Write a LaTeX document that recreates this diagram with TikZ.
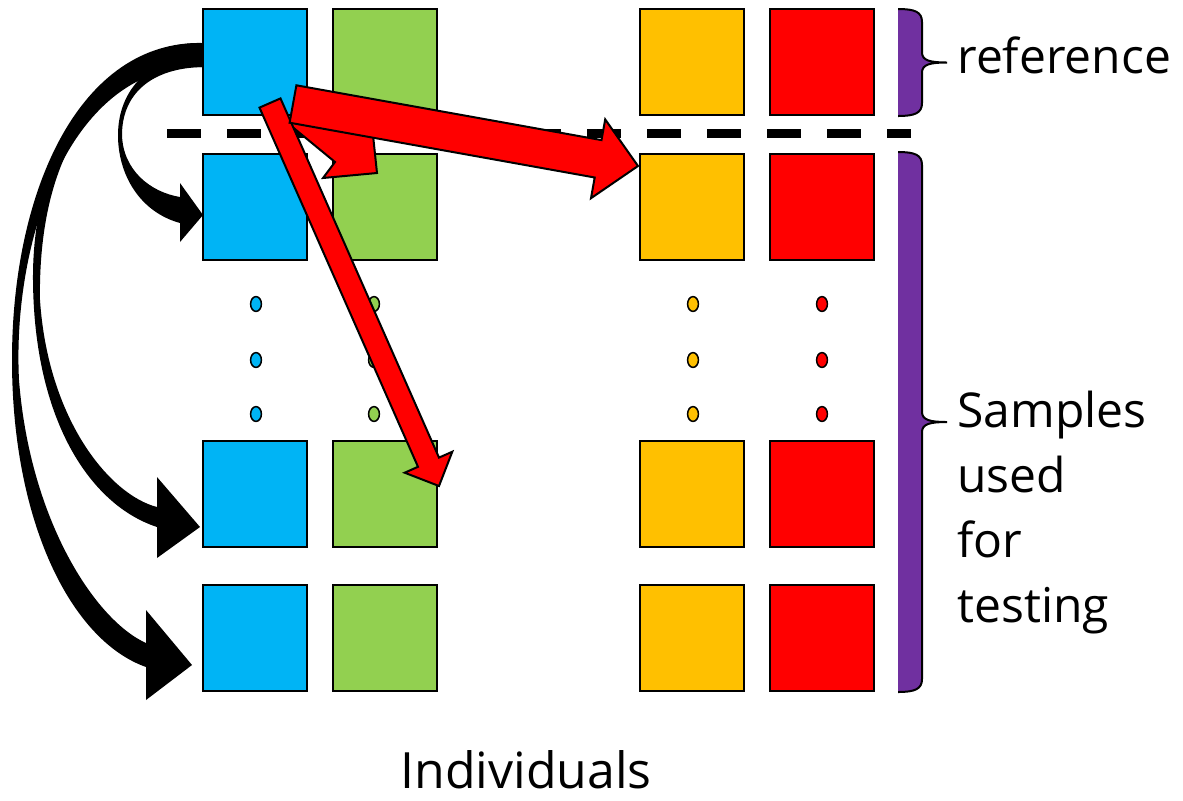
\documentclass[tikz,border=0pt]{standalone}
\usepackage{fontspec}
\setmainfont{Open Sans}
\usetikzlibrary{shapes.geometric}

\definecolor{cyanblue}{HTML}{00B4F5}
\definecolor{leafgreen}{HTML}{92D050}
\definecolor{amber}{HTML}{FFC000}
\definecolor{brightred}{HTML}{FF0000}
\definecolor{braceviolet}{HTML}{7030A0}

\begin{document}
\begin{tikzpicture}[
		x=0.5pt, y=-0.5pt,
		cell/.style={rectangle, draw, line width=1pt, minimum width=52pt, minimum height=53pt, inner sep=0pt},
		seed/.style={ellipse, draw, line width=0.75pt, minimum width=5.4pt, minimum height=7.4pt, inner sep=0pt},
		bolt/.style={fill=brightred, draw, line width=1pt, line join=miter},
		sidetext/.style={font=\fontsize{24}{32.5}\selectfont, align=left, inner sep=0pt}
	]
  \useasboundingbox (0,0) rectangle (1183,800);

  % four individuals, four samples each
  \foreach \c/\x/\col in {blu/255/cyanblue, grn/385/leafgreen, amb/692/amber, red/822/brightred}{
    \foreach \r/\y in {1/62, 2/207, 3/494, 4/638}
      \node[cell, fill=\col] (\c\r) at (\x,\y) {};
  }
  \foreach \x/\col in {256/cyanblue, 374/leafgreen, 693/amber, 822/brightred}{
    \foreach \y in {304, 360, 414}
      \node[seed, fill=\col] (dot\x\y) at (\x,\y) {};
  }

  \draw[line width=4.5pt, dash pattern=on 17pt off 13pt] (167,133) -- (911,133);

  % curved arrows from the reference sample
  \fill (203,55) .. controls (150,55) and (118,90) .. (118,135)
    .. controls (118,175) and (140,212) .. (180,223) -- (180,242) -- (203,215) -- (180,183) -- (180,197)
    .. controls (150,192) and (123,170) .. (122,135) .. controls (122,95) and (150,68) .. (203,67) -- cycle;
  \fill (203,43) .. controls (100,42) and (32,150) .. (33,280)
    .. controls (34,420) and (90,505) .. (157,527) -- (157,558) -- (200,527) -- (157,477) -- (157,507)
    .. controls (110,495) and (48,420) .. (40,300) .. controls (38,180) and (80,65) .. (203,67) -- cycle;
  \fill (203,43) .. controls (80,40) and (12,190) .. (12,360)
    .. controls (12,520) and (70,640) .. (146,667) -- (146,700) -- (192,665) -- (146,610) -- (146,643)
    .. controls (95,620) and (30,520) .. (19,380) .. controls (12,240) and (70,62) .. (203,67) -- cycle;

  % red block arrows
  \draw[bolt] (300,118) -- (373,135) -- (377,173) -- (323,178) -- (335,162) -- (290,125) -- cycle;
  \draw[bolt] (280.5,98.4) -- (439,457.6) -- (452.3,451.7) -- (439,486) -- (404.7,472.7) -- (418,466.8) -- (259.5,107.6) -- cycle;
  \draw[bolt] (296.4,85.3) -- (601.5,140.1) -- (605.2,119.4) -- (638,166) -- (591,198.2) -- (594.7,177.5) -- (289.6,122.7) -- cycle;

  % braces
  \foreach \t/\b in {9/116, 152/692}{
    \pgfmathsetmacro\m{(\t+\b)/2}
    \fill[braceviolet] (898,\t) .. controls (915,\t) and (922,\t+3) .. (922,\t+13) -- (922,\m-10)
      .. controls (922,\m-2) and (930,\m) .. (947,\m) .. controls (930,\m) and (922,\m+2) .. (922,\m+10)
      -- (922,\b-13) .. controls (922,\b-3) and (915,\b) .. (898,\b) -- cycle;
    \draw[line width=1pt] (898,\t) .. controls (915,\t) and (922,\t+3) .. (922,\t+13) -- (922,\m-10)
      .. controls (922,\m-2) and (930,\m) .. (947,\m) .. controls (930,\m) and (922,\m+2) .. (922,\m+10)
      -- (922,\b-13) .. controls (922,\b-3) and (915,\b) .. (898,\b);
  }

  \node[sidetext, anchor=base west] (ref) at (957,73) {reference};
  \node[sidetext, anchor=north west] (test) at (957,391) {Samples\\used\\for\\testing};
  \node[sidetext, anchor=base, font=\fontsize{25}{30}\selectfont] (indiv) at (526,788) {Individuals};
\end{tikzpicture}
\end{document}
